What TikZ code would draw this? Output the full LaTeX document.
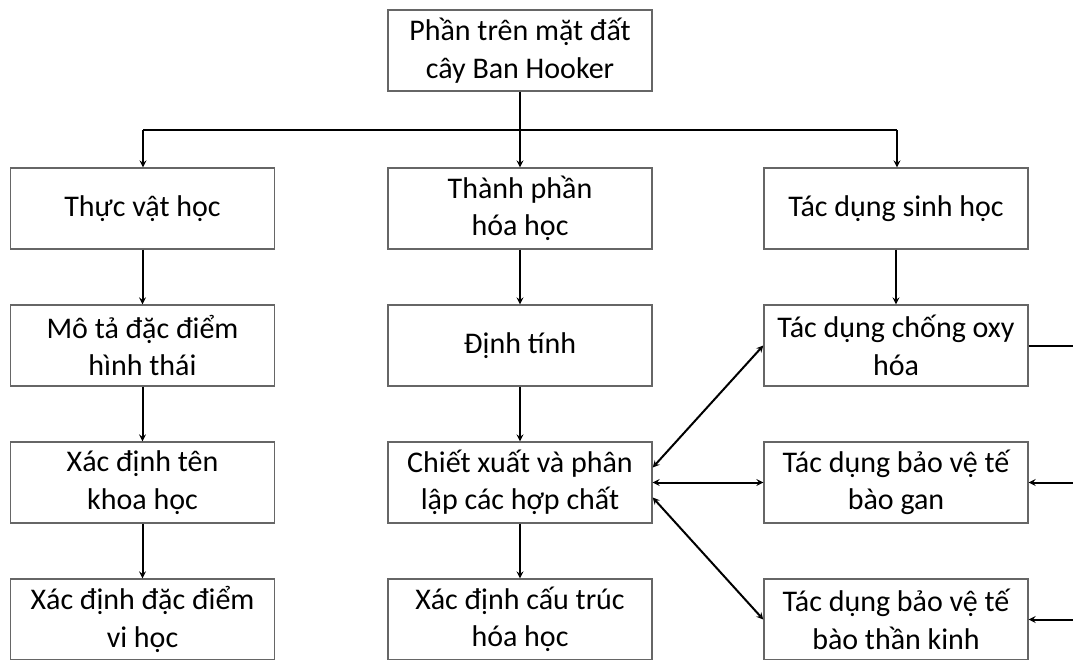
\documentclass[tikz,border=0pt]{standalone}
\usepackage{fontspec}
\setmainfont{Carlito}
\usetikzlibrary{arrows, positioning}
\tikzstyle{arrow} = [line width=2pt,->,>=stealth]
\tikzstyle{dblarrow} = [line width=2pt,<->,>=stealth]
\tikzstyle{link} = [line width=2pt]
\tikzstyle{process} = [rectangle, minimum width=264pt, minimum height=81pt, text centered, align=center, draw=gray!80!black, line width=1.4pt, font=\fontsize{30}{37.5}\selectfont]

\begin{document}
\begin{tikzpicture}[x=1pt, y=-1pt, node distance=137pt]
\useasboundingbox (0,0) rectangle (1073,659);
\clip (0,0) rectangle (1073,659);
%----------------------------------------------------------------------------
% Placement of boxes
\node (plantTop) [process] at (520,50.5) {Phần trên mặt đất\\cây Ban Hooker};
\node (botany) [process] at (142.5,208.5) {Thực vật học};
\node (chemistry) [process] at (520,208.5) {Thành phần\\hóa học};
\node (bioActivity) [process] at (896,208.5) {Tác dụng sinh học};

\node (morphology) [process, below of = botany] {Mô tả đặc điểm\\hình thái};
\node (sciName) [process, below of = morphology] {Xác định tên\\khoa học};
\node (microChar) [process, below of = sciName] {Xác định đặc điểm\\vi học};

\node (qualTest) [process, below of = chemistry] {Định tính};
\node (isolation) [process, below of = qualTest] {Chiết xuất và phân\\lập các hợp chất};
\node (structure) [process, below of = isolation] {Xác định cấu trúc\\hóa học};

\node (antiOxy) [process, below of = bioActivity] {Tác dụng chống oxy\\hóa};
\node (liverProt) [process, below of = antiOxy] {Tác dụng bảo vệ tế\\bào gan};
\node (nerveProt) [process, below of = liverProt] {Tác dụng bảo vệ tế\\bào thần kinh};

%----------------------------------------------------------------------------
% Lines
\coordinate (splitL) at (143,130);
\coordinate (splitR) at (897,130);
\draw [link] (splitL) -- (splitR);
\draw [arrow] (plantTop) -- (chemistry);
\draw [arrow] (splitL) -- (splitL |- botany.north);
\draw [arrow] (splitR) -- (splitR |- bioActivity.north);

\draw [arrow] (botany) -- (morphology);
\draw [arrow] (morphology) -- (sciName);
\draw [arrow] (sciName) -- (microChar);

\draw [arrow] (chemistry) -- (qualTest);
\draw [arrow] (qualTest) -- (isolation);
\draw [arrow] (isolation) -- (structure);

\draw [arrow] (bioActivity) -- (antiOxy);

\draw [dblarrow] ([yshift=15pt]isolation.east) -- (antiOxy.west);
\draw [dblarrow] (isolation.east) -- (liverProt.west);
\draw [dblarrow] ([yshift=-15pt]isolation.east) -- (nerveProt.west);

%----------------------------------------------------------------------------
% Return lines (leaving the page)
\coordinate (backA) at ([xshift=50pt]antiOxy.east);
\coordinate (backB) at ([xshift=50pt]liverProt.east);
\coordinate (backC) at ([xshift=50pt]nerveProt.east);
\draw [link] (antiOxy.east) -- (backA);
\draw [arrow] (backB) -- (liverProt.east);
\draw [arrow] (backC) -- (nerveProt.east);

\end{tikzpicture}
\end{document}
